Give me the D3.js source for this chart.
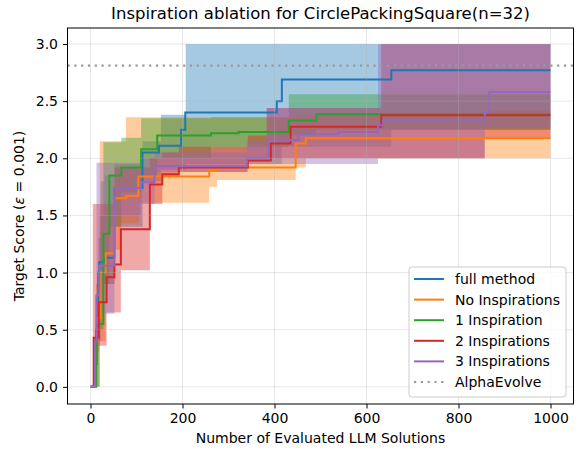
<!DOCTYPE html>
<html><head><meta charset="utf-8">
<script src="https://cdn.jsdelivr.net/npm/d3@7"></script>
<style>body{margin:0;background:#fff}svg{display:block}text{font-family:"DejaVu Sans",sans-serif;fill:#000}</style>
</head><body><svg id="c" width="580" height="450"></svg>
<script>
// ---- data ----
const seriesNames = ["full method", "No Inspirations", "1 Inspiration", "2 Inspirations", "3 Inspirations"];
const seriesColors = ["#1f77b4", "#ff7f0e", "#2ca02c", "#d62728", "#9467bd"];
const alphaEvolve = 2.81;
const xTicks = [0, 200, 400, 600, 800, 1000];
const yTicks = [0.0, 0.5, 1.0, 1.5, 2.0, 2.5, 3.0];

// lines (step-after)
const lineX_full = [0, 12, 17, 19, 30, 52, 113, 149, 197, 206, 405, 416, 654, 1000];
const lineY_full = [0, 0.5, 1.0, 1.09, 1.13, 1.74, 2.05, 2.11, 2.25, 2.40, 2.50, 2.69, 2.77, 2.77];
const lineX_no = [0, 12, 15, 22, 33, 52, 78, 104, 258, 275, 446, 468, 1000];
const lineY_no = [0, 0.3, 0.6, 1.0, 1.17, 1.65, 1.67, 1.84, 1.89, 1.92, 2.13, 2.175, 2.175];
const lineX_1 = [0, 12, 14, 28, 41, 67, 110, 145, 262, 322, 431, 491, 1000];
const lineY_1 = [0, 0.2, 0.55, 1.34, 1.85, 1.92, 2.08, 2.20, 2.22, 2.23, 2.33, 2.386, 2.386];
const lineX_2 = [0, 7, 18, 35, 52, 66, 129, 156, 192, 342, 392, 435, 632, 1000];
const lineY_2 = [0, 0.43, 0.74, 0.96, 1.07, 1.38, 1.77, 1.86, 1.92, 1.98, 2.13, 2.275, 2.377, 2.377];
const lineX_3 = [0, 10, 13, 19, 52, 110, 139, 340, 387, 452, 539, 625, 636, 857, 867, 1000];
const lineY_3 = [0, 0.4, 0.8, 1.06, 1.74, 1.79, 1.93, 2.00, 2.16, 2.21, 2.23, 2.29, 2.33, 2.40, 2.58, 2.58];

// bands (step-after)
const bandX_full = [0, 12, 17, 22, 30, 52, 113, 153, 207, 416, 654, 1000];
const bandLo_full = [0, 0, 0.4, 0.8, 0.9, 1.4, 1.8, 1.9, 1.95, 2.1, 2.25, 2.25];
const bandHi_full = [0, 0.6, 1.3, 1.8, 1.85, 1.95, 2.15, 2.38, 3.0, 3.0, 3.0, 3.0];
const bandX_no = [0, 12, 20, 33, 52, 67, 77, 106, 258, 275, 446, 468, 864, 1000];
const bandLo_no = [0, 0, 0.4, 0.9, 1.2, 1.43, 1.43, 1.61, 1.75, 1.81, 1.92, 2.0, 2.0, 2.0];
const bandHi_no = [0, 0.9, 2.15, 2.15, 2.15, 2.15, 2.36, 2.36, 2.36, 2.36, 2.38, 2.38, 2.42, 2.42];
const bandX_1 = [0, 12, 20, 28, 41, 67, 110, 145, 262, 431, 491, 1000];
const bandLo_1 = [0, 0, 0.5, 0.9, 1.4, 1.7, 1.85, 2.0, 2.1, 2.2, 2.25, 2.25];
const bandHi_1 = [0, 0.5, 1.5, 2.14, 2.14, 2.18, 2.35, 2.35, 2.36, 2.56, 2.56, 2.56];
const bandX_2 = [0, 5, 12, 35, 52, 66, 129, 156, 192, 342, 383, 632, 857, 1000];
const bandLo_2 = [0, 0, 0.36, 0.65, 0.65, 1.02, 1.6, 1.84, 1.88, 2.0, 2.0, 2.0, 2.175, 2.175];
const bandHi_2 = [0, 1.6, 1.6, 1.6, 1.92, 1.92, 2.0, 2.05, 2.1, 2.2, 2.44, 3.0, 3.0, 3.0];
const bandX_3 = [0, 10, 13, 19, 24, 52, 110, 139, 340, 383, 625, 857, 1000];
const bandLo_3 = [0, 0, 0.3, 0.6, 0.64, 1.5, 1.6, 1.88, 1.95, 1.95, 2.0, 2.27, 2.27];
const bandHi_3 = [0, 0.8, 1.96, 1.96, 1.96, 1.96, 2.0, 2.05, 2.15, 2.44, 3.0, 3.0, 3.0];

const lines = [[lineX_full, lineY_full], [lineX_no, lineY_no], [lineX_1, lineY_1], [lineX_2, lineY_2], [lineX_3, lineY_3]];
const bands = [[bandX_full, bandLo_full, bandHi_full], [bandX_no, bandLo_no, bandHi_no], [bandX_1, bandLo_1, bandHi_1], [bandX_2, bandLo_2, bandHi_2], [bandX_3, bandLo_3, bandHi_3]];

// ---- layout ----
const svg = d3.select("#c");
const L = 67.5, R = 573.5, T = 28, B = 404;
const x = d3.scaleLinear().domain([-50, 1050]).range([L, R]);
const y = d3.scaleLinear().domain([-0.15, 3.14]).range([B, T]);

svg.append("defs").append("clipPath").attr("id", "clip")
  .append("rect").attr("x", L).attr("y", T).attr("width", R - L).attr("height", B - T);

const plot = svg.append("g").attr("clip-path", "url(#clip)");

// bands
bands.forEach((b, i) => {
  const pts = b[0].map((xv, k) => ({x: xv, lo: b[1][k], hi: b[2][k]}));
  const area = d3.area().curve(d3.curveStepAfter).x(d => x(d.x)).y0(d => y(d.lo)).y1(d => y(d.hi));
  plot.append("path").attr("d", area(pts)).attr("fill", seriesColors[i]).attr("fill-opacity", 0.4).attr("stroke", "none");
});

// grid
const grid = svg.append("g");
xTicks.forEach(t => grid.append("line").attr("x1", x(t)).attr("x2", x(t)).attr("y1", T).attr("y2", B)
  .attr("stroke", "#b0b0b0").attr("stroke-opacity", 0.3).attr("stroke-width", 1));
yTicks.forEach(t => grid.append("line").attr("x1", L).attr("x2", R).attr("y1", y(t)).attr("y2", y(t))
  .attr("stroke", "#b0b0b0").attr("stroke-opacity", 0.3).attr("stroke-width", 1));

// lines
lines.forEach((l, i) => {
  const pts = l[0].map((xv, k) => ({x: xv, y: l[1][k]}));
  const line = d3.line().curve(d3.curveStepAfter).x(d => x(d.x)).y(d => y(d.y));
  plot.append("path").attr("d", line(pts)).attr("fill", "none").attr("stroke", seriesColors[i])
    .attr("stroke-width", 2).attr("stroke-linejoin", "miter");
});

// AlphaEvolve
plot.append("line").attr("x1", L).attr("x2", R).attr("y1", y(alphaEvolve)).attr("y2", y(alphaEvolve))
  .attr("stroke", "#999999").attr("stroke-width", 2.2).attr("stroke-dasharray", "2.2,4.6");

// axes
const xAxis = d3.axisBottom(x).tickValues(xTicks).tickFormat(d3.format("d")).tickSize(4.5).tickPadding(5);
const yAxis = d3.axisLeft(y).tickValues(yTicks).tickFormat(d3.format(".1f")).tickSize(4.5).tickPadding(5);
const gx = svg.append("g").attr("transform", `translate(0,${B})`).call(xAxis);
const gy = svg.append("g").attr("transform", `translate(${L},0)`).call(yAxis);
[gx, gy].forEach(g => {
  g.select(".domain").remove();
  g.selectAll("text").attr("font-size", 14).attr("font-family", "DejaVu Sans").attr("fill", "#000");
  g.selectAll("line").attr("stroke", "#000").attr("stroke-width", 1);
});
svg.append("rect").attr("x", L).attr("y", T).attr("width", R - L).attr("height", B - T)
  .attr("fill", "none").attr("stroke", "#000").attr("stroke-width", 1);

// labels
svg.append("text").attr("x", (L + R) / 2).attr("y", 19).attr("text-anchor", "middle")
  .attr("font-size", 16.5).text("Inspiration ablation for CirclePackingSquare(n=32)");
svg.append("text").attr("x", (L + R) / 2).attr("y", 443).attr("text-anchor", "middle")
  .attr("font-size", 14).text("Number of Evaluated LLM Solutions");
const yl = svg.append("text").attr("transform", `translate(24,${(T + B) / 2}) rotate(-90)`)
  .attr("text-anchor", "middle").attr("font-size", 14);
yl.append("tspan").text("Target Score (");
yl.append("tspan").attr("font-style", "italic").text("ε");
yl.append("tspan").text(" = 0.001)");

// legend
const lg = svg.append("g");
const LX = 409, LY = 267, LW = 157, LH = 130;
lg.append("rect").attr("x", LX).attr("y", LY).attr("width", LW).attr("height", LH).attr("rx", 3)
  .attr("fill", "#fff").attr("fill-opacity", 0.8).attr("stroke", "#cccccc").attr("stroke-width", 1);
const entries = seriesNames.map((n, i) => ({name: n, color: seriesColors[i], dash: null}))
  .concat([{name: "AlphaEvolve", color: "#999999", dash: "2.2,4.6"}]);
entries.forEach((e, i) => {
  const cy = LY + 12 + i * 20.6;
  const ln = lg.append("line").attr("x1", LX + 5).attr("x2", LX + 35).attr("y1", cy).attr("y2", cy)
    .attr("stroke", e.color).attr("stroke-width", 2);
  if (e.dash) ln.attr("stroke-dasharray", e.dash);
  lg.append("text").attr("x", LX + 46).attr("y", cy + 5).attr("font-size", 14).text(e.name);
});
</script></body></html>
